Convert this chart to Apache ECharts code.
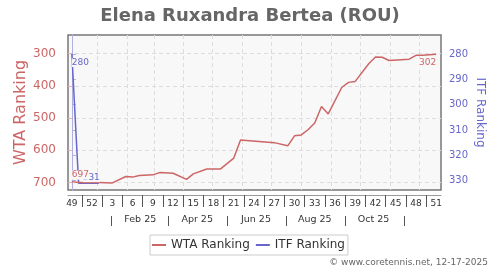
<!DOCTYPE html>
<html><head><meta charset="utf-8">
<script src="https://cdn.jsdelivr.net/npm/echarts@6/dist/echarts.min.js"></script>
<style>html,body{margin:0;padding:0;background:#fff}#c{width:500px;height:270px}</style>
</head><body><div id="c"></div>
<script>
// ---- data ----
const titleText = 'Elena Ruxandra Bertea (ROU)';
// week index 0 = week 49 of 2024 (ranking week starting around 2024-12-06)
const wtaWeekIdx = [0,1,4,6,8,9,10,12,13,15,17,18,20,22,24,25,30,32,33,34,35,36,37,38,40,41,42,44,45,46,47,50,51,52,54];
const wtaValues  = [697,700,700,701,681,683,678,676,669,671,690,673,658,658,624,568,576,586,555,552,536,515,464,487,405,389,386,331,310,311,321,317,305,305,302];
const itfWeekIdx = [0,1,2,3,4];
const itfValues  = [280,331,331,331,331];
const weekTickIdx = [0,3,6,9,12,15,18,21,24,27,30,33,36,39,42,45,48,51,54];
const weekTickLabels = ['49','52','3','6','9','12','15','18','21','24','27','30','33','36','39','42','45','48','51'];
const monthLabels = ['Feb 25','Apr 25','Jun 25','Aug 25','Oct 25'];
const monthLabelDates = ['2025-02-15','2025-04-15','2025-06-15','2025-08-15','2025-10-15'];
const monthSepDates = ['2025-01-16','2025-03-16','2025-05-16','2025-07-16','2025-09-16','2025-11-16'];
const monthStartDates = ['2025-01-01','2025-02-01','2025-03-01','2025-04-01','2025-05-01','2025-06-01','2025-07-01','2025-08-01','2025-09-01','2025-10-01','2025-11-01','2025-12-01'];
const wtaTicks = [300,400,500,600,700];
const itfTicks = [280,290,300,310,320,330];

// ---- helpers ----
const originDate = Date.UTC(2024,11,6);
const dayOf = s => { const p = s.split('-'); return (Date.UTC(+p[0], +p[1]-1, +p[2]) - originDate) / 86400000; };
const wk = i => i * 7;
const weekLabelMap = {}; weekTickIdx.forEach((w,k)=>{ weekLabelMap[wk(w)] = weekTickLabels[k]; });
const monthLabelMap = {}; monthLabelDates.forEach((d,k)=>{ monthLabelMap[dayOf(d)] = monthLabels[k]; });
const weekSeps = []; for (let k = 0; k < weekTickIdx.length - 1; k++) weekSeps.push(wk((weekTickIdx[k]+weekTickIdx[k+1])/2));

const RED = '#cc6666', BLUE = '#6666cc', FONT = 'DejaVu Sans';
const labelBg = '#f8f8f8';
const lab = (pos, align, dist, off) => ({show:true, position:pos, align:align, distance:dist, offset:off || [0,0]});
const wtaData = wtaWeekIdx.map((w,k)=>{
  const d = {value:[wk(w), wtaValues[k]]};
  if (k === 0) d.label = lab('top','left',2,[0,0]);
  if (k === wtaValues.length-1) d.label = lab('bottom','right',4);
  return d;
});
const itfData = itfWeekIdx.map((w,k)=>{
  const d = {value:[wk(w), itfValues[k]]};
  if (k === 0) d.label = lab('bottom','left',4,[0,0]);
  if (k === itfValues.length-1) d.label = lab('top','right',1,[1,0]);
  return d;
});

const XMIN = -4, XMAX = 383;
const chart = echarts.init(document.getElementById('c'), null, {renderer:'canvas'});
chart.setOption({
  animation:false,
  textStyle:{fontFamily:FONT},
  title:{text:titleText, left:'center', top:2, textStyle:{fontSize:18, fontWeight:'bold', color:'#666', fontFamily:FONT}},
  graphic:[{type:'text', right:12, bottom:3, style:{text:'© www.coretennis.net, 12-17-2025', fontSize:9, fill:'#666', fontFamily:FONT}}],
  legend:{left:150, top:235, padding:[4,3,4,2], itemGap:6, itemWidth:14, itemHeight:2,
    borderColor:'#ccc', borderWidth:1,
    data:[{name:'WTA Ranking', icon:'rect', itemStyle:{color:RED, opacity:1}},
          {name:'ITF Ranking', icon:'rect', itemStyle:{color:BLUE, opacity:1}}],
    textStyle:{fontSize:12, color:'#333', fontFamily:FONT}},
  grid:{left:68, right:59, top:35, bottom:80, show:true, backgroundColor:'#f8f8f8', borderColor:'#777', borderWidth:1.5},
  xAxis:[
    {type:'value', min:XMIN, max:XMAX, position:'bottom', offset:5,
      axisLine:{show:true, lineStyle:{color:'#999'}},
      axisTick:{show:true, customValues:weekSeps, length:12, lineStyle:{color:'#555'}},
      axisLabel:{customValues:weekTickIdx.map(wk), margin:4, fontSize:9, color:'#333', fontFamily:FONT,
        formatter:v=>weekLabelMap[v] || ''},
      splitLine:{show:false}},
    {type:'value', min:XMIN, max:XMAX, position:'bottom', offset:26,
      axisLine:{show:false},
      axisTick:{show:true, customValues:monthSepDates.map(dayOf), length:10, lineStyle:{color:'#555'}},
      axisLabel:{customValues:monthLabelDates.map(dayOf), margin:-1, fontSize:9.5, color:'#333', fontFamily:FONT,
        formatter:v=>monthLabelMap[v] || ''},
      splitLine:{show:false}},
    {type:'value', min:XMIN, max:XMAX, position:'bottom', show:true,
      axisLine:{show:false}, axisLabel:{show:false},
      axisTick:{show:false, customValues:monthStartDates.map(dayOf)},
      splitLine:{show:true, lineStyle:{color:'#ddd', type:[4,3], width:1}}}
  ],
  yAxis:[
    {type:'value', inverse:true, min:242, max:723, position:'left', offset:5,
      name:'WTA Ranking', nameLocation:'middle', nameGap:34, nameMoveOverlap:false,
      nameTextStyle:{fontSize:16, color:RED, fontFamily:FONT},
      axisLine:{show:true, lineStyle:{color:'#e0b0b0'}},
      axisTick:{show:true, customValues:wtaTicks, length:4, lineStyle:{color:'#e0b0b0'}},
      axisLabel:{customValues:wtaTicks, margin:7, fontSize:12, color:RED, fontFamily:FONT},
      splitLine:{show:true, lineStyle:{color:'#ddd', type:[4,3], width:1}}},
    {type:'value', inverse:true, min:272.5, max:333.7, position:'right', offset:5,
      name:'ITF Ranking', nameLocation:'middle', nameGap:28, nameRotate:-90, nameMoveOverlap:false,
      nameTextStyle:{fontSize:12, color:BLUE, fontFamily:FONT},
      axisLine:{show:true, lineStyle:{color:'#b0b0e0'}},
      axisTick:{show:true, customValues:itfTicks, length:4, lineStyle:{color:'#b0b0e0'}},
      axisLabel:{customValues:itfTicks, margin:3, fontSize:10, color:BLUE, fontFamily:FONT},
      splitLine:{show:false}}
  ],
  series:[
    {name:'ITF Ranking', type:'line', xAxisIndex:0, yAxisIndex:1, data:itfData,
      symbol:'circle', symbolSize:0.01, showSymbol:true, itemStyle:{color:BLUE},
      lineStyle:{color:BLUE, width:1.5}, color:BLUE,
      label:{show:false, color:BLUE, fontSize:9, fontFamily:FONT, backgroundColor:labelBg, padding:[0,0]}},
    {name:'WTA Ranking', type:'line', xAxisIndex:0, yAxisIndex:0, data:wtaData,
      symbol:'circle', symbolSize:0.01, showSymbol:true, itemStyle:{color:RED},
      lineStyle:{color:RED, width:1.5}, color:RED,
      label:{show:false, color:RED, fontSize:9, fontFamily:FONT, backgroundColor:labelBg, padding:[0,0]}}
  ]
});
</script></body></html>
